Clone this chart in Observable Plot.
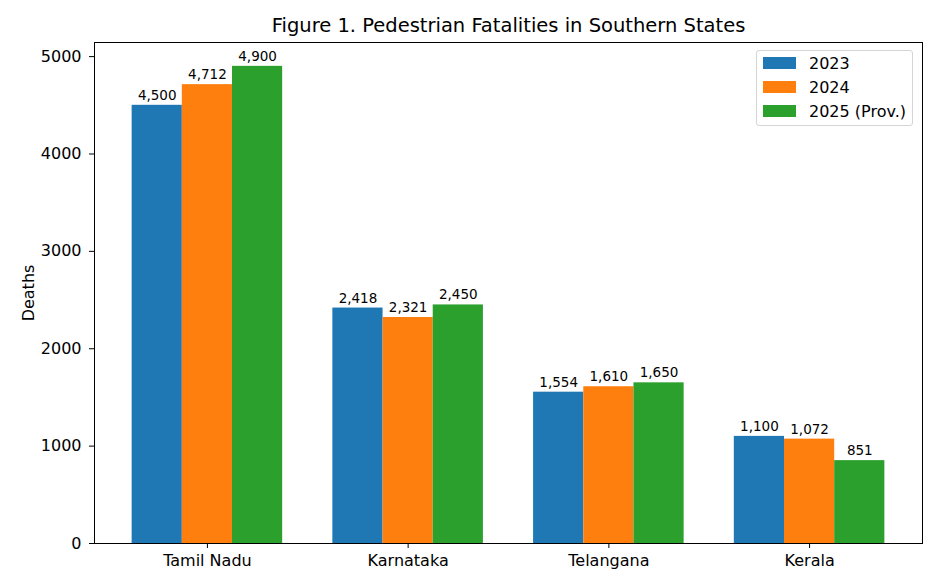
<!DOCTYPE html>
<html>
<head>
<meta charset="utf-8">
<script src="https://cdn.jsdelivr.net/npm/d3@7"></script>
<script src="https://cdn.jsdelivr.net/npm/@observablehq/plot@0.6"></script>
<style>
  html, body { margin: 0; padding: 0; background: #fff; }
  #wrap { position: relative; width: 940px; height: 588px; font-family: "DejaVu Sans", sans-serif; }
  #legend { position: absolute; left: 756px; top: 50px; width: 157px; height: 76px;
    border: 1px solid #d5d5d5; border-radius: 3px; background: rgba(255,255,255,0.8);
    box-sizing: border-box; font-size: 16px; color: #000; }
  .item { position: absolute; left: 6px; height: 24px; display: flex; align-items: center; }
  .sw { width: 33px; height: 12px; margin-right: 13px; }
</style>
</head>
<body>
<div id="wrap"><div id="legend"></div></div>
<script>
const title = "Figure 1. Pedestrian Fatalities in Southern States";
const states = ["Tamil Nadu", "Karnataka", "Telangana", "Kerala"];
const years = ["2023", "2024", "2025 (Prov.)"];
const deaths2023 = [4500, 2418, 1554, 1100];
const deaths2024 = [4712, 2321, 1610, 1072];
const deaths2025 = [4900, 2450, 1650, 851];
const colors = ["#1f77b4", "#ff7f0e", "#2ca02c"];
const yTicks = [0, 1000, 2000, 3000, 4000, 5000];

const series = [deaths2023, deaths2024, deaths2025];
const barW = 0.25;
const rows = states.flatMap((s, i) => series.map((vals, j) => ({
  state: s, year: years[j], j, value: vals[i],
  x1: i - 1.5 * barW + j * barW, x2: i - 1.5 * barW + (j + 1) * barW
})));

const chart = Plot.plot({
  width: 940, height: 588,
  marginLeft: 94, marginRight: 18, marginTop: 42, marginBottom: 45,
  style: { fontFamily: "DejaVu Sans", fontSize: "16px", color: "#000", background: "#fff" },
  x: { domain: [-0.5625, 3.5625] },
  y: { domain: [0, 5145] },
  marks: [
    Plot.rectY(rows, { x1: "x1", x2: "x2", y1: 0, y2: "value", fill: d => colors[d.j] }),
    Plot.text(rows, { x: d => (d.x1 + d.x2) / 2, y: "value", text: d => d3.format(",")(d.value),
      lineAnchor: "bottom", dy: -5.5, fontSize: 13.5, fill: "#000" }),
    Plot.axisX({ ticks: [0, 1, 2, 3], tickFormat: i => states[i], tickSize: 5, tickPadding: 6,
      label: null, fontSize: 16 }),
    Plot.axisY({ ticks: yTicks, tickFormat: d => String(d), tickSize: 5, tickPadding: 8,
      label: null, fontSize: 16 }),
    Plot.text(["Deaths"], { frameAnchor: "left", dx: -61, rotate: -90, lineAnchor: "bottom",
      textAnchor: "middle", fontSize: 16, fill: "#000" }),
    Plot.text([title], { frameAnchor: "top", dy: -10.3, lineAnchor: "bottom", fontSize: 19.5, fill: "#000" }),
    Plot.frame({ stroke: "#000", strokeWidth: 1 })
  ]
});
document.getElementById("wrap").prepend(chart);

const legend = document.getElementById("legend");
years.forEach((y, j) => {
  const it = document.createElement("div");
  it.className = "item";
  it.style.top = (0 + j * 24) + "px";
  it.innerHTML = `<div class="sw" style="background:${colors[j]}"></div><span>${y}</span>`;
  legend.appendChild(it);
});
</script>
</body>
</html>
